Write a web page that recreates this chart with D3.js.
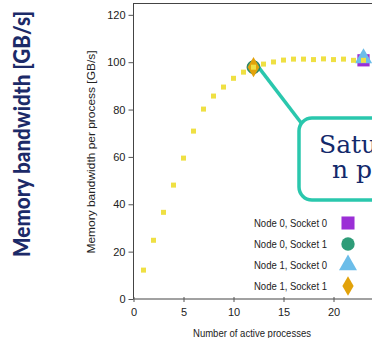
<!DOCTYPE html>
<html><head><meta charset="utf-8">
<script src="https://cdn.jsdelivr.net/npm/d3@7"></script>
<style>body{margin:0;background:#fff;overflow:hidden}svg{display:block}</style>
</head><body>
<svg id="c" width="372" height="338"></svg>
<script>
const processes = [1,2,3,4,5,6,7,8,9,10,11,12,13,14,15,16,17,18,19,20,21,22,23];
const bandwidth = [12.2,24.8,36.6,48.1,59.5,70.9,80.2,85.7,89.5,93.2,95.8,97.9,99.2,100.1,100.9,101.3,101.3,101.1,101.4,101.1,101.3,100.8,100.8];
const yTicks = [0,20,40,60,80,100,120];
const xTicks = [0,5,10,15,20];
const legendLabels = ["Node 0, Socket 0","Node 0, Socket 1","Node 1, Socket 0","Node 1, Socket 1"];
const legendColors = ["#9b2fd6","#2e9c78","#6cbde9","#e2a20a"];
const legendShapes = [d3.symbolSquare, d3.symbolCircle, d3.symbolTriangle, d3.symbolDiamond];
const markerX = [23, 12, 23, 12];
const markerY = [100.8, 97.9, 100.8, 97.9];
const calloutLines = ["Saturatio","n point"];

const svg = d3.select("#c");
const x = d3.scaleLinear().domain([0,24]).range([133.5,373.5]);
const y = d3.scaleLinear().domain([0,125]).range([299,3]);
const axisFont = "'Liberation Sans',Arial,sans-serif";

// big title
svg.append("text").attr("transform","translate(30,134) rotate(-90)")
  .attr("text-anchor","middle").attr("font-family","Lato,'DejaVu Sans',sans-serif")
  .attr("font-weight",900).attr("font-size",22).attr("fill","#1c2a68")
  .attr("textLength",246).attr("lengthAdjust","spacingAndGlyphs")
  .text("Memory bandwidth [GB/s]");

// frame top
svg.append("line").attr("x1",x(0)).attr("x2",380).attr("y1",y(125)+0.5).attr("y2",y(125)+0.5)
  .attr("stroke","#444").attr("stroke-width",1);

const ya = svg.append("g").attr("transform",`translate(${x(0)},0)`)
  .call(d3.axisLeft(y).tickValues(yTicks).tickSize(5).tickPadding(3));
ya.select(".domain").attr("d",`M0,${y(0)}V${y(125)}`);
const xa = svg.append("g").attr("transform",`translate(0,${y(0)})`)
  .call(d3.axisBottom(x).tickValues(xTicks).tickSize(3).tickPadding(6));
xa.select(".domain").attr("d",`M${x(0)},0H380`);
xa.selectAll(".tick line").attr("y1",-2);
svg.selectAll(".tick line").attr("stroke","#555");
svg.selectAll(".domain").attr("stroke","#444");
svg.selectAll(".tick text").attr("font-family",axisFont).attr("font-size",11).attr("fill","#222");

svg.append("text").attr("transform","translate(95,152) rotate(-90)")
  .attr("text-anchor","middle").attr("font-family",axisFont).attr("font-size",11).attr("fill","#222")
  .attr("textLength",203).attr("lengthAdjust","spacingAndGlyphs")
  .text("Memory bandwidth per process [GB/s]");
svg.append("text").attr("x",252).attr("y",337).attr("text-anchor","middle")
  .attr("font-family",axisFont).attr("font-size",11).attr("fill","#222")
  .attr("textLength",118).attr("lengthAdjust","spacingAndGlyphs")
  .text("Number of active processes");

// callout
svg.append("line").attr("x1",x(12)+5).attr("y1",y(97.9)).attr("x2",302).attr("y2",124)
  .attr("stroke","#2ac7ad").attr("stroke-width",3.5);
svg.append("rect").attr("x",299).attr("y",118).attr("width",120).attr("height",82).attr("rx",13)
  .attr("fill","#fff").attr("stroke","#2ac7ad").attr("stroke-width",3.5);
svg.selectAll(".cl").data(calloutLines).join("text").attr("class","cl")
  .attr("x",(d,i)=>i?332:319).attr("y",(d,i)=>i?178:153)
  .attr("font-family","'DejaVu Serif',serif").attr("font-size",25).attr("fill","#13296b")
  .text(d=>d);

// markers
[1,3,0,2].forEach(i=>{
  svg.append("path").attr("d",d3.symbol(legendShapes[i], i===0?150:(i===3?120:130))())
    .attr("transform",`translate(${x(markerX[i])},${y(markerY[i]) - (i===2?2:0)})`)
    .attr("fill",legendColors[i]).attr("stroke", i===1?"#2a7a5c":"none").attr("stroke-width",1);
});

// data points
svg.selectAll(".pt").data(processes).join("rect").attr("class","pt")
  .attr("x",(d)=>x(d)-2.5).attr("y",(d,i)=>y(bandwidth[i])-2.5)
  .attr("width",5).attr("height",5).attr("fill","#efe043");

// legend
const lg = svg.append("g");
legendLabels.forEach((l,i)=>{
  const yy = 223 + i*21;
  lg.append("text").attr("x",327).attr("y",yy+4).attr("text-anchor","end")
    .attr("font-family",axisFont).attr("font-size",11).attr("fill","#222")
    .attr("textLength",73).attr("lengthAdjust","spacingAndGlyphs").text(l);
  lg.append("path").attr("d",d3.symbol(legendShapes[i], i===0?170:(i===3?110:140))())
    .attr("transform",`translate(348,${yy})`).attr("fill",legendColors[i]);
});
</script>
</body></html>
